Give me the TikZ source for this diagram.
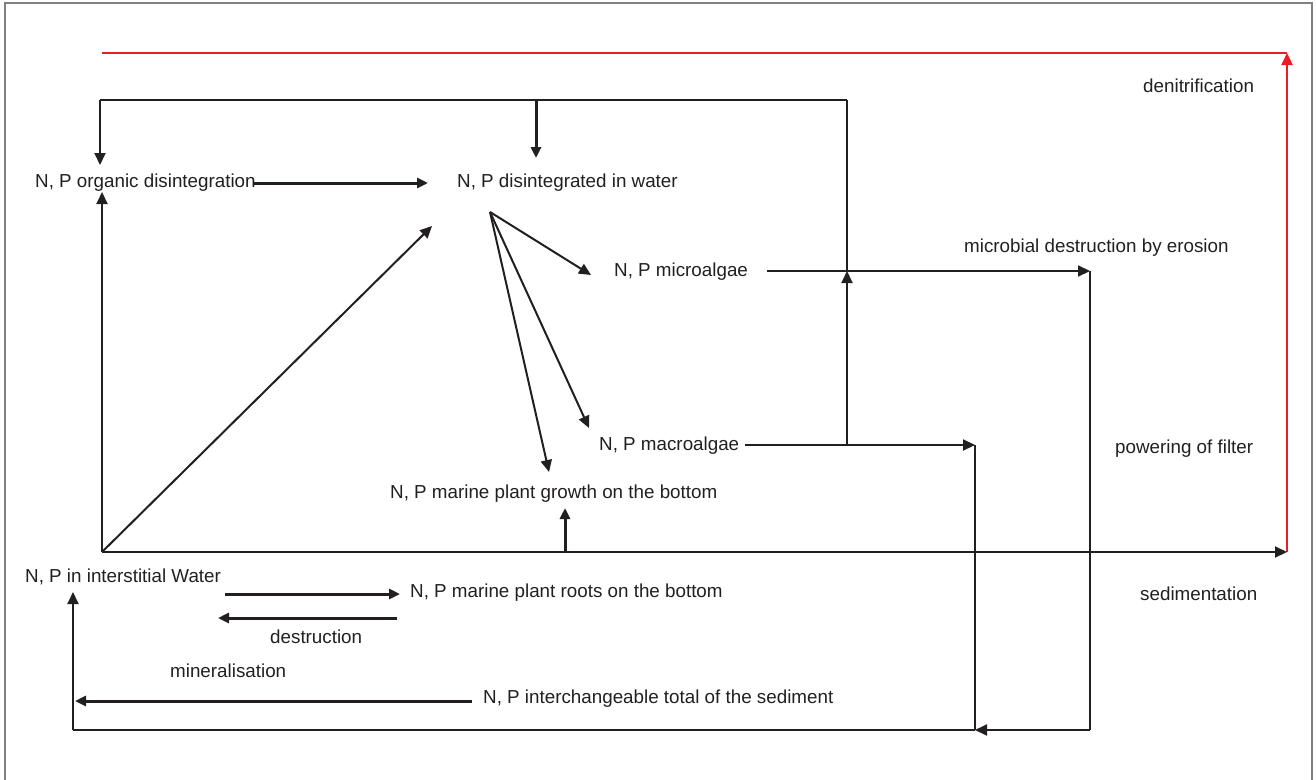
\documentclass[tikz,border=0pt]{standalone}
\usepackage{fontspec}
\setmainfont{Liberation Sans}
\usetikzlibrary{arrows.meta}
\definecolor{ink}{HTML}{231F20}
\definecolor{redline}{HTML}{ED1C24}
\begin{document}
\begin{tikzpicture}[x=1pt,y=-1pt,
  lbl/.style={anchor=west,inner sep=0pt,text=ink,font=\fontsize{18.8}{21}\selectfont},
  con/.style={draw=ink,line width=2pt},
  arr/.style={con,-{Triangle[length=12pt,width=11pt]}},
  barr/.style={draw=ink,line width=3pt,-{Triangle[length=11pt,width=10pt]}},
  redc/.style={draw=redline,line width=2.2pt},
  redarr/.style={redc,-{Triangle[length=12pt,width=11pt]}}]
\useasboundingbox (0,0) rectangle (1316,779);
\draw[gray,line width=1.2pt] (5,790) -- (5,3) -- (1312,3) -- (1312,790);

% labels
\node[lbl] (denit) at (1143,86) {denitrification};
\node[lbl] (org) at (35,183) {N, P organic disintegration};
\node[lbl] (water) at (457,183) {N, P disintegrated in water};
\node[lbl] (micdes) at (964,248) {microbial destruction by erosion};
\node[lbl] (micro) at (614,272) {N, P microalgae};
\node[lbl] (power) at (1115,449) {powering of filter};
\node[lbl] (macro) at (599,446) {N, P macroalgae};
\node[lbl] (growth) at (390,494) {N, P marine plant growth on the bottom};
\node[lbl] (inter) at (25,577) {N, P in interstitial Water};
\node[lbl] (roots) at (410,593) {N, P marine plant roots on the bottom};
\node[lbl] (sedim) at (1140,594) {sedimentation};
\node[lbl] (destr) at (270,637) {destruction};
\node[lbl] (miner) at (170,671) {mineralisation};
\node[lbl] (sedtot) at (483,699) {N, P interchangeable total of the sediment};

% coordinates
\coordinate (O) at (102,552);
\coordinate (S) at (1287,552);
\coordinate (R) at (1287,53);
\coordinate (RL) at (102,53);
\coordinate (TL) at (100,100);
\coordinate (TR) at (847,100);
\coordinate (TA) at (536,100);
\coordinate (TAe) at (536,158);
\coordinate (orgT) at (100,165);
\coordinate (orgB) at (102,192);
\coordinate (orgR) at (253,183);
\coordinate (watL) at (428,183);
\coordinate (diagE) at (432,226);
\coordinate (fan) at (490,212);
\coordinate (fmic) at (591,275);
\coordinate (fmac) at (589,428);
\coordinate (fgro) at (549,472);
\coordinate (groB) at (565,552);
\coordinate (groA) at (565,508);
\coordinate (micR) at (767,271);
\coordinate (micE) at (1090,271);
\coordinate (V847) at (847,271);
\coordinate (macR) at (745,445);
\coordinate (macJ) at (847,445);
\coordinate (macE) at (975,445);
\coordinate (B975) at (975,730);
\coordinate (B1090) at (1090,730);
\coordinate (BL) at (73,730);
\coordinate (interB) at (73,592);
\coordinate (r1a) at (225,594);
\coordinate (r1b) at (400,594);
\coordinate (r2a) at (397,618);
\coordinate (r2b) at (218,618);
\coordinate (minA) at (472,701);
\coordinate (minB) at (75,701);

% red denitrification loop
\draw[redarr] (S) -- (R);
\draw[redc] (R) -- (RL);

% top loop
\draw[con] (TR) -- (TL);
\draw[arr] (TL) -- (orgT);
\draw[barr] (TA) -- (TAe);
\draw[con] (V847) -- (TR);
\draw[arr] (macJ) -- (V847);

% main flows
\draw[barr] (orgR) -- (watL);
\draw[arr] (O) -- (orgB);
\draw[arr] (O) -- (diagE);
\draw[arr] (O) -- (S);
\draw[barr] (groB) -- (groA);
\draw[arr] (fan) -- (fmic);
\draw[arr] (fan) -- (fmac);
\draw[arr] (fan) -- (fgro);

% algae outputs
\draw[arr] (micR) -- (micE);
\draw[con] (micE) -- (B1090);
\draw[arr] (B1090) -- (B975);
\draw[arr] (macR) -- (macE);
\draw[con] (macE) -- (B975);
\draw[con] (B975) -- (BL);
\draw[arr] (BL) -- (interB);

% bottom arrows
\draw[barr] (r1a) -- (r1b);
\draw[barr] (r2a) -- (r2b);
\draw[barr] (minA) -- (minB);
\end{tikzpicture}
\end{document}
